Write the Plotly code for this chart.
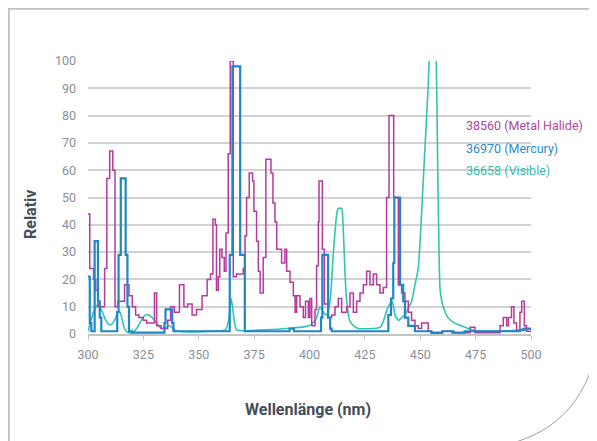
import plotly.graph_objects as go

# ---------------- data ----------------
mh_x = [300.0, 300.8, 302.5, 303.5, 304.5, 307.5, 308.5, 309.8, 311.2, 312.2,
        313.5, 316.5, 318.5, 320.0, 321.5, 323.0, 325.0, 326.5, 330.0, 331.0,
        333.0, 336.0, 337.3, 339.0, 341.3, 343.3, 345.0, 347.0, 349.0, 351.5,
        353.8, 355.3, 356.4, 357.5, 358.0, 358.8, 359.5, 360.5, 361.5, 362.3,
        363.3, 364.2, 365.6, 367.0, 370.1, 370.9, 371.6, 372.8, 374.3, 374.9,
        376.1, 376.9, 377.7, 379.1, 380.3, 382.6, 383.5, 384.4, 385.2, 387.4,
        388.9, 389.7, 391.2, 392.7, 393.5, 394.2, 395.7, 397.2, 398.2, 399.5,
        400.2, 401.0, 402.5, 403.2, 404.0, 404.3, 405.8, 406.7, 408.5, 410.0,
        411.5, 413.0, 414.5, 416.8, 418.3, 419.8, 421.3, 422.8, 424.3, 425.8,
        427.3, 428.8, 430.3, 431.8, 433.3, 434.8, 435.9, 438.0, 440.1, 441.6,
        443.1, 444.6, 446.1, 447.6, 449.1, 450.6, 451.8, 453.6, 455.1, 458.2,
        459.7, 462.7, 464.2, 470.2, 472.5, 474.7, 485.3, 486.0, 487.5, 489.0,
        489.8, 491.2, 492.3, 493.5, 495.0, 495.8, 497.0, 498.0, 500.0]
mh_y = [44, 24, 20, 16, 10, 24, 57, 67, 60, 10,
        12, 18, 14, 10, 7, 6, 5, 4, 15, 3,
        2, 5, 10, 8, 18, 10, 11, 7, 9, 14,
        20, 22, 42, 40, 16, 21, 31, 28, 23, 37,
        66, 100, 21, 22, 24, 36, 50, 59, 56, 45,
        34, 23, 15, 28, 64, 59, 48, 41, 31, 26,
        31, 23, 19, 14, 8, 14, 10, 6, 12, 6,
        13, 3, 9, 25, 41, 56, 31, 11, 6, 7,
        10, 13, 8, 10, 15, 8, 12, 15, 18, 23,
        18, 22, 18, 15, 17, 50, 80, 50, 18, 15,
        12, 8, 5, 3, 2, 4, 4, 1, 0.3, 0.3,
        1, 1, 0.5, 0.5, 2.5, 0.5, 0.5, 3, 6, 3,
        6, 10, 4, 1, 8, 12, 3, 1, 1]

hg_x = [300.0, 300.8, 301.5, 303.0, 304.5, 305.3, 306.0, 313.2, 313.8, 314.8,
        317.0, 317.8, 318.5, 320.0, 334.5, 335.0, 338.0, 338.6, 364.0, 365.2,
        368.7, 370.8, 391.0, 393.0, 405.2, 405.8, 408.4, 409.3, 410.0, 435.6,
        436.8, 437.8, 438.3, 440.9, 442.3, 443.1, 444.6, 447.6, 452.0, 455.0,
        460.0, 465.0, 470.0, 485.0, 495.0, 497.0, 500.0]
hg_y = [21, 4, 1, 34, 12, 6, 1, 8, 29, 57,
        29, 10, 1, 0.5, 4, 9, 4, 1, 29, 98,
        29, 1, 2, 1, 6, 29, 6, 2, 1, 7,
        13, 26, 50, 18, 12, 6, 3, 1, 1, 0.5,
        1, 0.5, 1, 1, 1.5, 2, 2]

vis_x = [300.0, 301.0, 302.5, 304.0, 305.0, 306.5, 308.0, 309.5, 310.5, 312.0,
         313.5, 314.5, 315.5, 316.5, 318.0, 320.0, 322.0, 324.0, 326.0, 327.5,
         329.0, 331.0, 333.0, 335.0, 337.0, 339.0, 341.0, 345.0, 355.0, 362.0,
         363.5, 364.7, 366.0, 367.0, 370.0, 380.0, 390.0, 398.0, 401.0, 403.2,
         404.7, 406.2, 407.7, 409.3, 410.7, 412.3, 413.0, 414.5, 415.2, 416.0,
         416.8, 418.3, 420.0, 422.0, 429.0, 432.0, 433.5, 435.0, 436.3, 437.4,
         438.6, 440.1, 441.6, 443.1, 444.6, 446.1, 447.6, 449.1, 450.6, 452.1,
         453.6, 454.6, 455.8, 457.0, 457.8, 458.5, 458.9, 459.5, 460.4, 462.5,
         465.5, 468.5, 471.5, 475.0, 490.0, 495.0, 497.0, 500.0]
vis_y = [1, 4, 8, 10.5, 10.5, 8, 5, 3.5, 3.5, 5,
         8, 8, 5, 2, 0.5, 0.5, 2, 5, 7, 7,
         6, 4, 2, 2.5, 3, 1.5, 1, 0.8, 1, 1.5,
         5, 13, 5, 1.5, 1.2, 1.5, 2, 2.7, 3.5, 6,
         10, 8, 7, 12, 29, 44, 46, 46, 39, 23,
         12, 4.5, 3, 2, 2, 2.5, 5, 9, 11, 12,
         7, 5, 6, 7, 9.5, 12, 18, 24, 44, 68,
         91, 112, 130, 112, 66, 29, 17, 13, 10, 6,
         4, 3, 2, 1.2, 1.2, 1.5, 2, 1.8]

series_names = ["38560 (Metal Halide)", "36970 (Mercury)", "36658 (Visible)"]
x_ticks = [300, 325, 350, 375, 400, 425, 450, 475, 500]
y_ticks = [0, 10, 20, 30, 40, 50, 60, 70, 80, 90, 100]

# ---------------- styling ----------------
C_MH = "#b63a9e"
C_HG = "#1f87c9"
C_VIS = "#35c3b1"
TXT_MH = "#b0479c"
TXT_HG = "#2d8ccb"
TXT_VIS = "#33bcab"
TICK_FONT = "Roboto, sans-serif"
TITLE_FONT = "Roboto, sans-serif"

OFF = 8                      # page body margin
W, H = 597 - OFF, 441 - OFF
L, R, T, B = 80, 66, 53, 107
PW, PH = W - L - R, H - T - B


def px(xp):                  # page pixel -> paper x
    return (xp - OFF - L) / PW


def py(yp):                  # page pixel -> paper y
    return (H - B - (yp - OFF)) / PH


fig = go.Figure()
fig.add_trace(go.Scatter(x=vis_x, y=vis_y, mode="lines", name=series_names[2],
                         line=dict(color=C_VIS, width=1.6, shape="spline", smoothing=0.5)))
fig.add_trace(go.Scatter(x=mh_x, y=mh_y, mode="lines", name=series_names[0],
                         line=dict(color=C_MH, width=1.5, shape="hv")))
fig.add_trace(go.Scatter(x=hg_x, y=hg_y, mode="lines", name=series_names[1],
                         line=dict(color=C_HG, width=2.2, shape="hv")))

shapes = [
    dict(type="rect", xref="paper", yref="paper", x0=px(458), x1=1.0,
         y0=py(180), y1=py(110), fillcolor="white", line=dict(width=0), layer="between"),
    dict(type="path", xref="paper", yref="paper",
         path=f"M {px(600)},{py(8.9)} L {px(8.9)},{py(8.9)} L {px(8.9)},{py(445)}",
         line=dict(color="#bcc1c6", width=1.8)),
    dict(type="path", xref="paper", yref="paper",
         path=(f"M {px(599)},{py(333)} C {px(592)},{py(395)} {px(560)},{py(432)} "
               f"{px(505)},{py(445)}"),
         line=dict(color="#9aa0a6", width=1)),
]

annotations = [
    dict(text="Wellenlänge (nm)", xref="paper", yref="paper", x=px(308), y=py(409),
         showarrow=False, xanchor="center", yanchor="middle",
         font=dict(family=TITLE_FONT, size=16, color="#444e58", weight="bold")),
    dict(text="Relativ", xref="paper", yref="paper", x=px(30), y=py(215),
         showarrow=False, xanchor="center", yanchor="middle", textangle=-90,
         font=dict(family=TITLE_FONT, size=16, color="#444e58", weight="bold")),
]
for name, col, ypix in [(series_names[0], TXT_MH, 125),
                        (series_names[1], TXT_HG, 148),
                        (series_names[2], TXT_VIS, 170)]:
    annotations.append(dict(text=name, xref="paper", yref="paper", x=px(464), y=py(ypix),
                            showarrow=False, xanchor="left", yanchor="middle",
                            font=dict(family=TICK_FONT, size=12.5, color=col)))

fig.update_layout(
    width=W, height=H,
    margin=dict(l=L, r=R, t=T, b=B),
    paper_bgcolor="white", plot_bgcolor="white",
    showlegend=False,
    shapes=shapes,
    annotations=annotations,
    xaxis=dict(range=[300, 500], tickvals=x_ticks, ticktext=[str(v) for v in x_ticks],
               showgrid=False, zeroline=False, showline=True, linecolor="#c4c4c4",
               linewidth=1.5, ticks="outside", ticklen=4, tickcolor="#c4c4c4",
               tickfont=dict(family=TICK_FONT, size=12.5, color="#8a8f95"),
               ticklabelstandoff=4, fixedrange=True),
    yaxis=dict(range=[0, 100], tickvals=y_ticks, ticktext=[str(v) for v in y_ticks],
               showgrid=True, gridcolor="#d2d2d2", gridwidth=1.5, zeroline=False,
               showline=False, ticks="",
               tickfont=dict(family=TICK_FONT, size=12.5, color="#8a8f95"),
               ticklabelstandoff=11, fixedrange=True),
)

fig.write_html("out.html")
